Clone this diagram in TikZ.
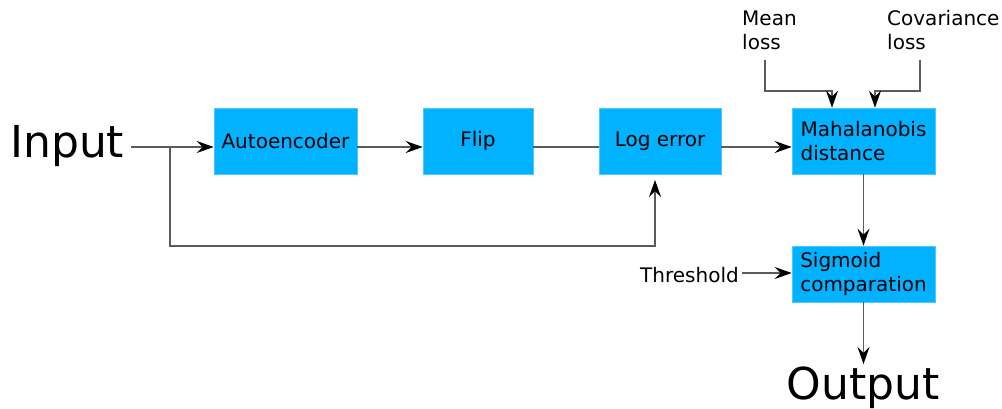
\documentclass[tikz,border=0pt]{standalone}
\usepackage{fontspec}
\setmainfont{DejaVu Sans}
\usetikzlibrary{arrows.meta,calc}
\definecolor{boxblue}{RGB}{0,178,255}
\definecolor{linec}{RGB}{90,90,90}
\tikzset{
  blk/.style={fill=boxblue, draw=boxblue!70!white, line width=0.6pt, inner sep=0pt, align=left,
    font=\fontsize{20}{24}\selectfont},
  lbl/.style={inner sep=0pt, align=left, font=\fontsize{20}{24}\selectfont},
  big/.style={inner sep=0pt, font=\fontsize{44}{50}\selectfont},
  conn/.style={draw=linec, line width=1.9pt},
  arr/.style={conn, -{Stealth[length=17pt,width=12pt,inset=6pt,color=black]}}
}
\begin{document}
\begin{tikzpicture}[x=1pt,y=-1pt]
\useasboundingbox (0,0) rectangle (1002,409);
% boxes
\node[blk, minimum width=143pt, minimum height=66pt] (ae)   at (285.5,141) {Autoencoder};
\node[blk, minimum width=110pt, minimum height=66pt] (flip) at (478,141) {Flip};
\node[blk, minimum width=122pt, minimum height=66pt] (log)  at (660,141) {Log error};
\node[blk, minimum width=143pt, minimum height=66pt] (mah)  at (863.5,141) {Mahalanobis\\distance};
\node[blk, minimum width=143pt, minimum height=56pt] (sig)  at (863.5,274) {Sigmoid\\comparation};
% texts
\node[big, anchor=base west] (in) at (10,158) {Input};
\node[big, anchor=base] (out) at (863,399) {Output};
\node[lbl, anchor=north west] (mean) at (742,10.4) {Mean\\loss};
\node[lbl, anchor=north west] (cov) at (887,10.4) {Covariance\\loss};
\node[lbl, anchor=base west] (thr) at (640,282) {Threshold};
% helper coordinates
\coordinate (ly) at (0,147);
\coordinate (br) at (170,147);
\coordinate (bl) at (170,246);
\coordinate (lb) at (655,180);
\coordinate (m1) at (765,60);
\coordinate (mj) at (832,91);
\coordinate (c1) at (920,60);
\coordinate (cj) at (875,91);
\coordinate (ty) at (0,273);
\coordinate (otip) at (863,364);
% connectors
\draw[arr] ([xshift=7pt]in.east |- ly) -- (ae.west |- ly);
\draw[arr] (ae.east |- ly) -- (flip.west |- ly);
\draw[conn] (flip.east |- ly) -- (log.west |- ly);
\draw[arr] (log.east |- ly) -- (mah.west |- ly);
\draw[arr] (br) -- (bl) -| (lb);
\draw[arr] (m1) |- (mj) -- (mj |- mah.north);
\draw[arr] (c1) |- (cj) -- (cj |- mah.north);
\draw[arr] (mah.south) -- (sig.north);
\draw[arr] ([xshift=3pt]thr.east |- ty) -- (sig.west |- ty);
\draw[arr] (sig.south) -- (sig.south |- otip);
\end{tikzpicture}
\end{document}
